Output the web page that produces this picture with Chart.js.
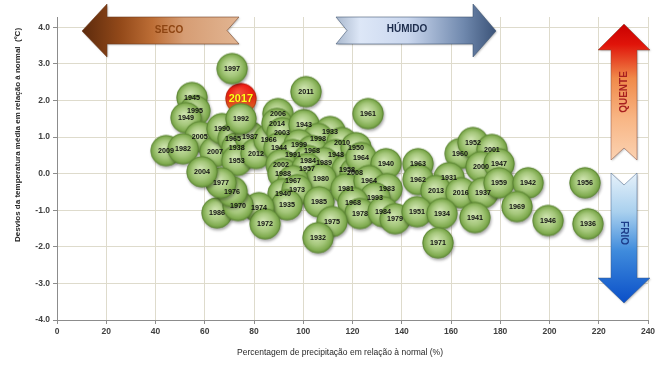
<!DOCTYPE html>
<html>
<head>
<meta charset="utf-8">
<script src="https://cdn.jsdelivr.net/npm/chart.js@4/dist/chart.umd.min.js"></script>
<style>
html,body{margin:0;padding:0;background:#fff;}
canvas{display:block;}
</style>
</head>
<body>
<canvas id="c" width="668" height="367"></canvas>
<script>
// ---- data ----
const years = [1997,1945,1995,1949,2005,2009,1982,2007,1990,1965,1938,1987,1992,1953,2012,1966,2006,2014,2003,1943,1944,2011,1961,1933,1998,1999,1968,2010,1948,1950,1991,1984,1989,1958,2008,1964,2002,1988,1957,1980,1967,1940,1973,1985,1981,1940,1964,1983,1993,1968,1978,1984,1979,1975,1932,1935,1974,1972,1986,1970,1976,1977,2004,1960,1952,2001,2000,1947,1963,1962,1931,2013,2016,1937,1959,1942,1969,1941,1951,1934,1971,1946,1956,1936];
const precip = [71.1,54.8,56.0,52.4,58.0,44.3,51.2,64.2,67.0,71.5,73.0,78.4,74.7,73.0,80.8,86.0,89.7,89.3,91.4,100.3,90.2,101.1,126.3,110.9,106.0,98.3,103.6,115.7,113.3,121.4,95.8,101.9,108.4,117.8,121.0,123.5,91.0,91.8,101.5,107.2,95.8,91.8,97.5,106.4,117.4,133.6,126.7,134.0,129.1,120.2,123.0,132.4,137.3,111.7,106.0,93.4,82.0,84.5,65.0,73.5,71.1,66.6,58.9,163.7,168.9,176.6,172.2,179.5,146.6,146.6,159.2,153.9,164.0,173.0,179.5,191.3,186.8,169.7,146.2,156.3,154.7,199.4,214.4,215.6];
const tempDev = [2.87,2.08,1.72,1.53,1.01,0.63,0.68,0.60,1.23,0.96,0.71,1.01,1.50,0.36,0.55,0.93,1.64,1.37,1.12,1.34,0.71,2.24,1.64,1.15,0.96,0.79,0.63,0.85,0.52,0.71,0.52,0.36,0.30,0.11,0.03,0.44,0.25,0.00,0.14,-0.14,-0.19,-0.55,-0.44,-0.77,-0.41,0.27,-0.19,-0.41,-0.66,-0.79,-1.09,-1.04,-1.23,-1.31,-1.75,-0.85,-0.93,-1.37,-1.07,-0.87,-0.49,-0.25,0.05,0.55,0.85,0.66,0.19,0.27,0.27,-0.16,-0.11,-0.46,-0.52,-0.52,-0.25,-0.25,-0.90,-1.20,-1.04,-1.09,-1.89,-1.28,-0.25,-1.37];
const highlightYear = [2017];
const highlightPrecip = [74.7];
const highlightTemp = [2.05];
const xTicks = [0,20,40,60,80,100,120,140,160,180,200,220,240];
const yTicks = [-4,-3,-2,-1,0,1,2,3,4];
const xTitle = 'Percentagem de precipitação em relação à normal (%)';
const yTitle = 'Desvios da temperatura média em relação à normal  (ºC)';
const arrowTexts = {dry:'SECO', wet:'HÚMIDO', hot:'QUENTE', cold:'FRIO'};

// ---- styling helpers ----
const BUBBLE_R = 15.5;
function makeBubble(kind){
  const S = 42, cx = 21, cy = 21, R = BUBBLE_R;
  const cv = document.createElement('canvas'); cv.width = S; cv.height = S;
  const g = cv.getContext('2d');
  g.save();
  g.shadowColor = 'rgba(0,0,0,0.35)'; g.shadowBlur = 3; g.shadowOffsetX = 1; g.shadowOffsetY = 2;
  let grad;
  if (kind === 'red') {
    grad = g.createLinearGradient(0, cy - R, 0, cy + R);
    grad.addColorStop(0, '#f01010'); grad.addColorStop(0.45, '#e42812'); grad.addColorStop(1, '#d8802a');
  } else {
    grad = g.createRadialGradient(cx - 2, cy - 3, 1, cx, cy, R);
    grad.addColorStop(0, '#cde3ad'); grad.addColorStop(0.55, '#a5c77b'); grad.addColorStop(0.85, '#82ad52'); grad.addColorStop(1, '#67933c');
  }
  g.fillStyle = grad; g.beginPath(); g.arc(cx, cy, R, 0, Math.PI * 2); g.fill();
  g.restore();
  if (kind === 'red') {
    const hl = g.createRadialGradient(cx - 3, cy - 6, 1, cx, cy - 3, R * 0.8);
    hl.addColorStop(0, 'rgba(255,120,90,0.55)'); hl.addColorStop(1, 'rgba(255,120,90,0)');
    g.fillStyle = hl; g.beginPath(); g.arc(cx, cy, R, 0, Math.PI * 2); g.fill();
  }
  g.strokeStyle = kind === 'red' ? 'rgba(150,40,10,0.7)' : 'rgba(85,125,45,0.75)';
  g.lineWidth = 0.8; g.beginPath(); g.arc(cx, cy, R - 0.3, 0, Math.PI * 2); g.stroke();
  return cv;
}
const greenImg = makeBubble('green');
const redImg = makeBubble('red');

const labelPlugin = {
  id: 'labels',
  afterDatasetsDraw(chart){
    const ctx = chart.ctx;
    ctx.save();
    ctx.textAlign = 'center'; ctx.textBaseline = 'middle';
    chart.data.datasets.forEach((ds, di) => {
      const meta = chart.getDatasetMeta(di);
      meta.data.forEach((el, i) => {
        if (ds.highlight) {
          ctx.font = 'bold 11px "Liberation Sans", Arial, sans-serif';
          ctx.fillStyle = 'rgba(120,40,0,0.6)';
          ctx.fillText(String(ds.yearLabels[i]), el.x + 0.6, el.y + 0.8);
          ctx.fillStyle = '#ffff1a';
        } else {
          ctx.font = 'bold 7.2px "Liberation Sans", Arial, sans-serif';
          ctx.fillStyle = '#111111';
        }
        ctx.fillText(String(ds.yearLabels[i]), el.x, el.y + 0.5);
      });
    });
    ctx.restore();
  }
};

function polygon(ctx, pts){
  ctx.beginPath(); ctx.moveTo(pts[0][0], pts[0][1]);
  for (let i = 1; i < pts.length; i++) ctx.lineTo(pts[i][0], pts[i][1]);
  ctx.closePath();
}

const decorPlugin = {
  id: 'decor',
  afterDraw(chart){
    const ctx = chart.ctx;
    ctx.save();
    // axis titles
    ctx.fillStyle = '#262626';
    ctx.textAlign = 'center'; ctx.textBaseline = 'middle';
    ctx.font = '8.5px "Liberation Sans", Arial, sans-serif';
    ctx.fillText(xTitle, 340, 353);
    ctx.save();
    ctx.translate(18, 135); ctx.rotate(-Math.PI / 2);
    ctx.font = 'bold 8px "Liberation Sans Narrow", "Liberation Sans", Arial, sans-serif';
    ctx.fillText(yTitle, 0, 0);
    ctx.restore();

    const shadow = () => { ctx.shadowColor = 'rgba(0,0,0,0.25)'; ctx.shadowBlur = 2; ctx.shadowOffsetX = 1; ctx.shadowOffsetY = 1; };
    const noShadow = () => { ctx.shadowColor = 'rgba(0,0,0,0)'; ctx.shadowBlur = 0; ctx.shadowOffsetX = 0; ctx.shadowOffsetY = 0; };

    // SECO arrow (left)
    let g = ctx.createLinearGradient(82, 0, 239, 0);
    g.addColorStop(0, '#5c2a0c'); g.addColorStop(0.25, '#944a1a'); g.addColorStop(0.45, '#bd6e36');
    g.addColorStop(0.65, '#d69d74'); g.addColorStop(1, '#e2b592');
    polygon(ctx, [[82,31],[107,4],[107,17],[239,17],[227,30.5],[239,44],[107,44],[107,57]]);
    shadow(); ctx.fillStyle = g; ctx.fill(); noShadow();
    ctx.strokeStyle = 'rgba(110,60,30,0.7)'; ctx.lineWidth = 0.8; ctx.stroke();
    ctx.fillStyle = '#8e4512'; ctx.font = 'bold 10px "Liberation Sans", Arial, sans-serif';
    ctx.fillText(arrowTexts.dry, 169, 30);

    // HÚMIDO arrow (right)
    g = ctx.createLinearGradient(336, 0, 496, 0);
    g.addColorStop(0, '#a9b8cd'); g.addColorStop(0.15, '#dde7f7'); g.addColorStop(0.45, '#cad7ee');
    g.addColorStop(0.8, '#6f88ad'); g.addColorStop(1, '#3b5378');
    polygon(ctx, [[336,17],[473,17],[473,4],[496,31],[473,57],[473,44],[336,44],[347,30.5]]);
    shadow(); ctx.fillStyle = g; ctx.fill(); noShadow();
    ctx.strokeStyle = 'rgba(60,80,110,0.7)'; ctx.stroke();
    ctx.fillStyle = '#1c2c4c';
    ctx.fillText(arrowTexts.wet, 407, 29);

    // QUENTE arrow (up)
    g = ctx.createLinearGradient(0, 24, 0, 160);
    g.addColorStop(0, '#c80000'); g.addColorStop(0.15, '#e0140a'); g.addColorStop(0.4, '#f08a4a');
    g.addColorStop(0.7, '#f8b685'); g.addColorStop(1, '#fbd2b2');
    polygon(ctx, [[624,24],[650,50],[637,50],[637,160],[624,148],[611,160],[611,50],[598,50]]);
    shadow(); ctx.fillStyle = g; ctx.fill(); noShadow();
    ctx.strokeStyle = 'rgba(130,70,50,0.6)'; ctx.stroke();
    ctx.save(); ctx.translate(624, 92); ctx.rotate(-Math.PI / 2);
    ctx.fillStyle = '#a82020'; ctx.fillText(arrowTexts.hot, 0, 0); ctx.restore();

    // FRIO arrow (down)
    g = ctx.createLinearGradient(0, 173, 0, 303);
    g.addColorStop(0, '#e6f1fa'); g.addColorStop(0.3, '#a9d0ee'); g.addColorStop(0.6, '#3f8bdc'); g.addColorStop(1, '#0a4fc8');
    polygon(ctx, [[611,173],[624,185],[637,173],[637,278],[650,278],[624,303],[598,278],[611,278]]);
    shadow(); ctx.fillStyle = g; ctx.fill(); noShadow();
    ctx.strokeStyle = 'rgba(60,90,130,0.6)'; ctx.stroke();
    ctx.save(); ctx.translate(624, 233); ctx.rotate(Math.PI / 2);
    ctx.fillStyle = '#1d3d8a'; ctx.fillText(arrowTexts.cold, 0, 0); ctx.restore();

    ctx.restore();
  }
};

const mainPoints = years.map((y, i) => ({x: precip[i], y: tempDev[i], r: BUBBLE_R}));
const hiPoints = highlightYear.map((y, i) => ({x: highlightPrecip[i], y: highlightTemp[i], r: BUBBLE_R}));

const tickFont = {family: '"Liberation Sans", Arial, sans-serif', size: 8.5, weight: 'bold'};

new Chart(document.getElementById('c'), {
  type: 'bubble',
  data: {
    datasets: [
      {data: mainPoints, yearLabels: years, pointStyle: greenImg, backgroundColor: '#9cc170', borderWidth: 0},
      {data: hiPoints, yearLabels: highlightYear, highlight: true, pointStyle: redImg, backgroundColor: '#e02010', borderWidth: 0}
    ]
  },
  options: {
    responsive: false,
    animation: false,
    events: [],
    layout: {padding: {top: 17, right: 20, left: 0, bottom: 0}},
    plugins: {legend: {display: false}, tooltip: {enabled: false}},
    scales: {
      x: {
        type: 'linear', min: xTicks[0], max: xTicks[xTicks.length - 1],
        afterBuildTicks: s => { s.ticks = xTicks.map(v => ({value: v})); },
        afterFit: s => { s.height = 47; },
        ticks: {font: tickFont, color: '#404040', padding: 3, maxRotation: 0, autoSkip: false, callback: v => String(v)},
        grid: {color: '#dedbcc', lineWidth: 1, tickLength: 4, tickColor: '#8c8c8c'},
        border: {color: '#8c8c8c', width: 1}
      },
      y: {
        type: 'linear', min: yTicks[0], max: 4.28,
        afterBuildTicks: s => { s.ticks = yTicks.map(v => ({value: v})); },
        afterFit: s => { s.width = 57; },
        ticks: {font: tickFont, color: '#404040', padding: 3, callback: v => Number(v).toFixed(1)},
        grid: {color: '#dedbcc', lineWidth: 1, tickLength: 4, tickColor: '#8c8c8c'},
        border: {color: '#8c8c8c', width: 1}
      }
    }
  },
  plugins: [labelPlugin, decorPlugin]
});
</script>
</body>
</html>
